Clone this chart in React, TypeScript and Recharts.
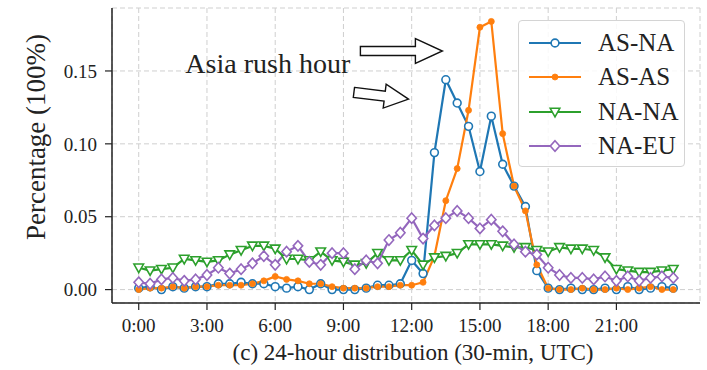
import { LineChart, Line, XAxis, YAxis, CartesianGrid, Legend, ReferenceDot } from "recharts";

const hourTicks = [0, 6, 12, 18, 24, 30, 36, 42];
const hourLabels = ["0:00", "3:00", "6:00", "9:00", "12:00", "15:00", "18:00", "21:00"];
const pctTicks = [0, 0.05, 0.1, 0.15];

// 48 half-hour slots, UTC
const asNa = [
  0.001, 0.002, 0.0, 0.002, 0.001, 0.002, 0.002, 0.004, 0.004, 0.005, 0.004, 0.004,
  0.002, 0.001, 0.002, 0.0, 0.004, 0.0, 0.0, 0.0, 0.001, 0.003, 0.003, 0.004,
  0.02, 0.011, 0.094, 0.144, 0.128, 0.112, 0.081, 0.119, 0.086, 0.071, 0.057, 0.013,
  0.001, 0.0, 0.001, 0.0, 0.0, 0.001, 0.0, 0.002, 0.0, 0.001, 0.002, 0.001,
];
const asAs = [
  0.0, 0.001, 0.001, 0.002, 0.001, 0.002, 0.002, 0.003, 0.003, 0.003, 0.004, 0.006,
  0.009, 0.007, 0.006, 0.004, 0.004, 0.002, 0.001, 0.001, 0.001, 0.002, 0.002, 0.003,
  0.003, 0.005, 0.023, 0.061, 0.083, 0.123, 0.18, 0.184, 0.107, 0.071, 0.054, 0.017,
  0.001, 0.0, 0.0, 0.001, 0.0, 0.0, 0.001, 0.0, 0.001, 0.002, 0.0, 0.0,
];
const naNa = [
  0.015, 0.013, 0.014, 0.015, 0.021, 0.02, 0.019, 0.02, 0.024, 0.027, 0.03, 0.03,
  0.028, 0.021, 0.021, 0.02, 0.026, 0.02, 0.019, 0.017, 0.018, 0.025, 0.02, 0.02,
  0.027, 0.017, 0.022, 0.023, 0.025, 0.031, 0.031, 0.031, 0.03, 0.029, 0.029, 0.027,
  0.026, 0.029, 0.028, 0.028, 0.027, 0.022, 0.014, 0.013, 0.012, 0.012, 0.013, 0.014,
];
const naEu = [
  0.005, 0.004, 0.007, 0.008, 0.006, 0.007, 0.01, 0.015, 0.011, 0.014, 0.018, 0.023,
  0.017, 0.026, 0.03, 0.019, 0.017, 0.025, 0.025, 0.014, 0.02, 0.018, 0.034, 0.039,
  0.049, 0.035, 0.044, 0.049, 0.054, 0.049, 0.042, 0.048, 0.04, 0.031, 0.026, 0.024,
  0.015, 0.01, 0.008, 0.008, 0.007, 0.009, 0.006, 0.009, 0.006, 0.008, 0.009, 0.008,
];

const data = asNa.map((v, i) => ({ slot: i, asNa: v, asAs: asAs[i], naNa: naNa[i], naEu: naEu[i] }));

const series = [
  { key: "asNa", name: "AS-NA", color: "#1f77b4", marker: "circle" },
  { key: "asAs", name: "AS-AS", color: "#ff7f0e", marker: "dot" },
  { key: "naNa", name: "NA-NA", color: "#2ca02c", marker: "tri" },
  { key: "naEu", name: "NA-EU", color: "#9467bd", marker: "diamond" },
];

const FONT = "Liberation Serif";
const INK = "#222";

function Marker({ kind, cx, cy, color }: { kind: string; cx: number; cy: number; color: string }) {
  if (kind === "circle") return <circle cx={cx} cy={cy} r={3.9} fill="#fff" stroke={color} strokeWidth={1.6} />;
  if (kind === "dot") return <circle cx={cx} cy={cy} r={3} fill={color} stroke={color} strokeWidth={0.8} />;
  if (kind === "tri")
    return <path d={`M${cx - 4.8},${cy - 3.7}L${cx + 4.8},${cy - 3.7}L${cx},${cy + 4.8}Z`} fill="#fff" stroke={color} strokeWidth={1.6} />;
  return <path d={`M${cx},${cy - 5.2}L${cx + 4.7},${cy}L${cx},${cy + 5.2}L${cx - 4.7},${cy}Z`} fill="#fff" stroke={color} strokeWidth={1.6} />;
}

// outlined block arrow, tip at (tx, ty)
function BlockArrow({ tx, ty, len, shaft, headLen, headW, angle }: any) {
  const pts = [
    [-len, -shaft], [-headLen, -shaft], [-headLen, -headW], [0, 0],
    [-headLen, headW], [-headLen, shaft], [-len, shaft],
  ];
  const a = (angle * Math.PI) / 180;
  const d = pts
    .map(([x, y]) => `${tx + x * Math.cos(a) - y * Math.sin(a)},${ty + x * Math.sin(a) + y * Math.cos(a)}`)
    .join(" ");
  return <polygon points={d} fill="#fff" stroke="#111" strokeWidth={1.4} strokeLinejoin="miter" />;
}

function LegendBox() {
  return (
    <div style={{ position: "relative", width: 167, height: 147, border: "1px solid #d4d4d4", borderRadius: 4, background: "rgba(255,255,255,0.85)", boxSizing: "border-box" }}>
      {series.map((s, i) => (
        <div key={s.key} style={{ position: "absolute", left: 9, top: 22 + i * 34.3 - 14, height: 28, display: "flex", alignItems: "center" }}>
          <svg width={54} height={28}>
            <line x1={1} y1={14} x2={53} y2={14} stroke={s.color} strokeWidth={2.2} />
            <Marker kind={s.marker} cx={27} cy={14} color={s.color} />
          </svg>
          <span style={{ marginLeft: 16, fontFamily: FONT, fontSize: 25, color: INK, lineHeight: "28px" }}>{s.name}</span>
        </div>
      ))}
    </div>
  );
}

export default function App() {
  return (
    <div style={{ position: "absolute", left: 0, top: 0, width: 707, height: 370, background: "#fff", fontFamily: FONT }}>
      <LineChart width={707} height={370} data={data} margin={{ top: 8, right: 7, left: 0, bottom: 0 }} style={{ fontFamily: FONT }}>
        <CartesianGrid stroke="#cfcfcf" strokeDasharray="5 3" />
        <XAxis
          dataKey="slot"
          type="number"
          domain={[-2.35, 49.35]}
          ticks={hourTicks}
          tickFormatter={(v: number) => hourLabels[hourTicks.indexOf(v)]}
          height={67}
          tickSize={7}
          tickMargin={9}
          tick={{ fontSize: 19, fill: INK, fontFamily: FONT }}
          axisLine={{ stroke: INK, strokeWidth: 1.5 }}
          tickLine={{ stroke: INK, strokeWidth: 1.2 }}
          allowDataOverflow
          label={{
            content: (p: any) => {
              const vb = p.viewBox || { x: 112, y: 303, width: 588 };
              return (
                <text x={vb.x + vb.width / 2 + 7} y={vb.y + 57} textAnchor="middle" fontSize={23} fill={INK} fontFamily={FONT}>
                  (c) 24-hour distribution (30-min, UTC)
                </text>
              );
            },
          }}
        />
        <XAxis xAxisId="top" orientation="top" type="number" domain={[-2.35, 49.35]} height={0} tick={false} tickLine={false} axisLine={{ stroke: INK, strokeWidth: 1.5 }} />
        <YAxis
          type="number"
          domain={[-0.0092, 0.1932]}
          ticks={pctTicks}
          tickFormatter={(v: number) => v.toFixed(2)}
          width={112}
          tickSize={7}
          tickMargin={8}
          tick={{ fontSize: 19, fill: INK, fontFamily: FONT }}
          axisLine={{ stroke: INK, strokeWidth: 1.5 }}
          tickLine={{ stroke: INK, strokeWidth: 1.2 }}
          allowDataOverflow
          label={{
            content: () => (
              <text x={45} y={137} transform="rotate(-90 45 137)" textAnchor="middle" fontSize={27} fill={INK} fontFamily={FONT}>
                Percentage (100%)
              </text>
            ),
          }}
        />
        <YAxis yAxisId="right" orientation="right" type="number" domain={[0, 1]} width={0} tick={false} tickLine={false} axisLine={{ stroke: INK, strokeWidth: 1.5 }} />
        {series.map((s) => (
          <Line
            key={s.key}
            dataKey={s.key}
            name={s.name}
            stroke={s.color}
            strokeWidth={2.2}
            isAnimationActive={false}
            dot={(p: any) => (
              <g key={`${s.key}-${p.index}`}>
                <Marker kind={s.marker} cx={p.cx} cy={p.cy} color={s.color} />
              </g>
            )}
            activeDot={false}
          />
        ))}
        <ReferenceDot
          x={4.1}
          y={0.1486}
          r={1}
          shape={(p: any) => (
            <text x={p.cx} y={p.cy} fontSize={28} fill={INK} fontFamily={FONT}>
              Asia rush hour
            </text>
          )}
        />
        <ReferenceDot
          x={26.7}
          y={0.1637}
          r={1}
          shape={(p: any) => <BlockArrow tx={p.cx} ty={p.cy} len={82} shaft={4.5} headLen={27} headW={12.5} angle={0} />}
        />
        <ReferenceDot
          x={23.72}
          y={0.1307}
          r={1}
          shape={(p: any) => <BlockArrow tx={p.cx} ty={p.cy} len={55} shaft={5} headLen={24} headW={12} angle={7} />}
        />
        <Legend
          layout="vertical"
          align="center"
          verticalAlign="middle"
          wrapperStyle={{ position: "absolute", left: 518, top: 20, width: 167, height: 147 }}
          content={() => <LegendBox />}
        />
      </LineChart>
    </div>
  );
}
